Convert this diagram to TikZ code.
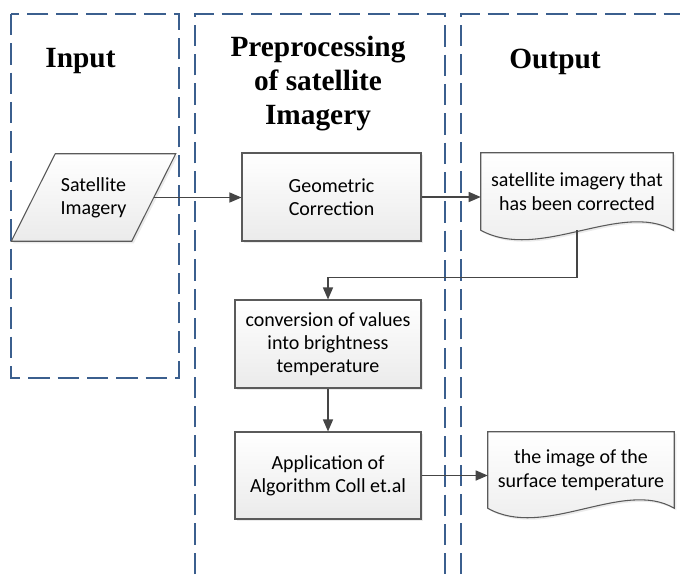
\documentclass[tikz,border=0pt]{standalone}
\usepackage{fontspec}
\setmainfont{Carlito}
\newfontfamily\titlefont{Liberation Serif}
\usetikzlibrary{arrows.meta,calc,shadows,backgrounds}
\definecolor{lanecol}{HTML}{3B5F8E}
\definecolor{edgecol}{HTML}{5A5A5A}
\definecolor{flowcol}{HTML}{454545}
\tikzset{
  lane/.style={draw=lanecol, line width=2pt, dash pattern=on 16pt off 6pt},
  heading/.style={font=\titlefont\bfseries\fontsize{22}{25.5}\selectfont, align=center, inner sep=0pt},
  boxfill/.style={draw=edgecol, line width=0.8pt, top color=white, bottom color=black!8,
    drop shadow={shadow xshift=1.5pt, shadow yshift=-1.5pt, opacity=0.2, fill=black!40}},
  boxtext/.style={align=center, inner sep=2pt, font=\fontsize{15}{17.5}\selectfont},
  procbox/.style={boxfill, boxtext, rectangle},
  flow/.style={draw=flowcol, line width=1pt, -{Triangle[length=9pt,width=7.5pt]}}
}
\begin{document}
\begin{tikzpicture}[x=0.75pt,y=-0.75pt]
\useasboundingbox (0,0) rectangle (680,574);
\node[heading] (inputhd) at (80.5,61.5) {Input};
\node[heading] (prephd) at (318,84) {Preprocessing\\of satellite\\Imagery};
\node[heading] (outhd) at (555,61.5) {Output};
\node[boxtext, minimum width=90pt, minimum height=65.25pt] (sat) at (93.5,197.5) {Satellite\\Imagery};
\node[procbox, minimum width=134.25pt, minimum height=66pt] (geo) at (331.5,197) {Geometric\\Correction};
\node[procbox, minimum width=139.5pt, minimum height=66pt] (conv) at (328,344) {conversion of values\\into brightness\\temperature};
\node[procbox, minimum width=139.5pt, minimum height=65.25pt] (app) at (328,475.5) {Application of\\Algorithm Coll et.al};
\node[boxtext, minimum width=144pt, minimum height=57.75pt] (doc1) at (577,191.5) {satellite imagery that\\has been corrected};
\node[boxtext, minimum width=139.5pt, minimum height=57pt] (doc2) at (581,470) {the image of the\\surface temperature};
\begin{scope}[on background layer]
\draw[lane] (11,14) rectangle (179,378);
\draw[lane] (195,574) -- (195,14) -- (445,14) -- (445,574);
\draw[lane] (461,574) -- (461,14) -- (680,14);
\draw[boxfill] ($(sat.north west)+(22,0)$) -- ($(sat.north east)+(22,0)$) -- ($(sat.south east)+(-22,0)$) -- ($(sat.south west)+(-22,0)$) -- cycle;
\draw[boxfill] (doc1.south west) -- (doc1.north west) -- (doc1.north east) -- (doc1.south east) .. controls +(-53,-30) and +(59,32) .. (doc1.south west) -- cycle;
\draw[boxfill] (doc2.south west) -- (doc2.north west) -- (doc2.north east) -- (doc2.south east) .. controls +(-51,-30) and +(57,32) .. (doc2.south west) -- cycle;
\end{scope}
\draw[flow] (sat.east) -- (sat.east -| geo.west);
\draw[flow] (geo.east) -- (geo.east -| doc1.west);
\draw[flow] (doc1.south) -- ++(0,47) -| (conv.north);
\draw[flow] (conv) -- (app);
\draw[flow] (app.east) -- (app.east -| doc2.west);
\end{tikzpicture}
\end{document}
